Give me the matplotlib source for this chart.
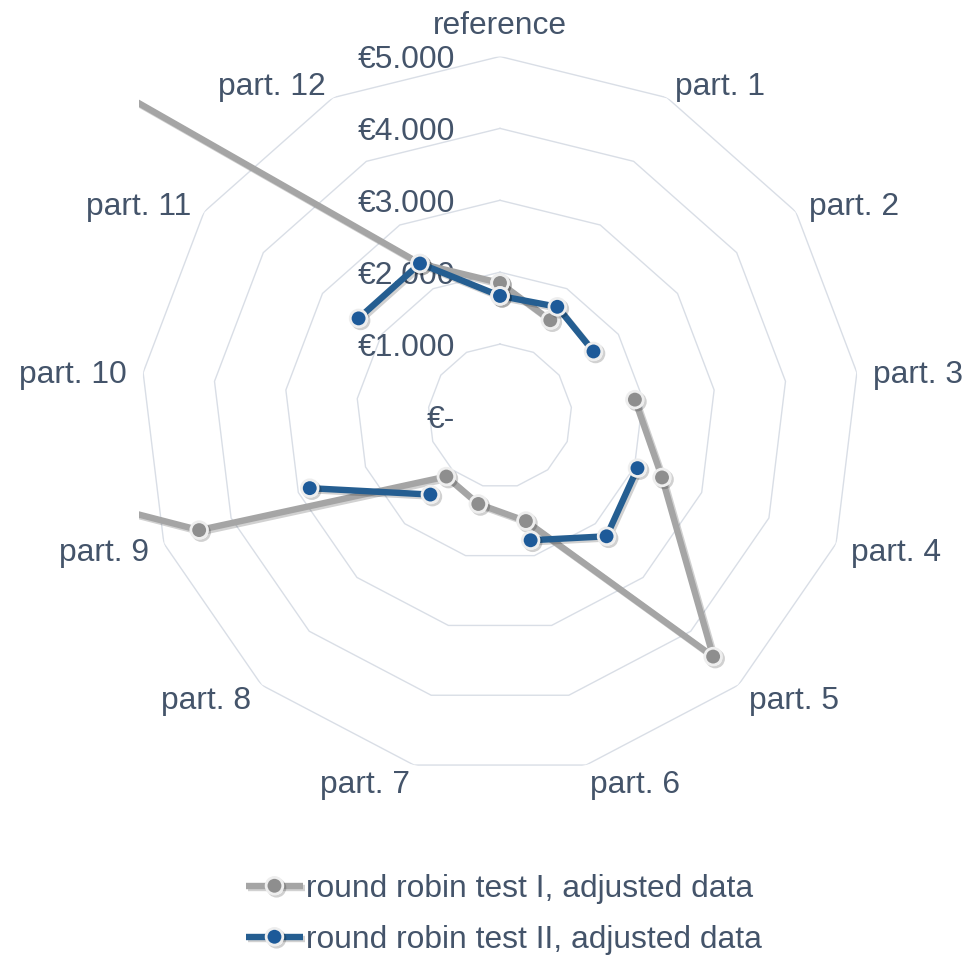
import numpy as np
import matplotlib
matplotlib.use('Agg')
import matplotlib.pyplot as plt
import matplotlib.patheffects as pe
from matplotlib.patches import Rectangle
from matplotlib.transforms import ScaledTranslation

plt.rcParams['font.family'] = ['Liberation Sans', 'DejaVu Sans']

categories = ['reference', 'part. 1', 'part. 2', 'part. 3', 'part. 4', 'part. 5', 'part. 6',
              'part. 7', 'part. 8', 'part. 9', 'part. 10', 'part. 11', 'part. 12']
test_1 = [1850, 1505, np.nan, 1890, 2410, 4470, 1505, 1260, 1125, 4475, 19650, 15050, 2395]
test_2 = [1670, 1715, 1580, np.nan, 2045, 2235, 1780, np.nan, 1460, 2830, np.nan, 2390, 2395]
ring_values = [1000, 2000, 3000, 4000, 5000]
ring_labels = ['€-', '€1.000', '€2.000', '€3.000', '€4.000', '€5.000']
series_names = ['round robin test I, adjusted data', 'round robin test II, adjusted data']

text_color = '#44546A'
grid_color = '#D9DEE6'
fs = 22.9

W, H = 975, 956
fig = plt.figure(figsize=(W / 100, H / 100), dpi=100)
cx, cy, R = 500, 416, 359.5
ax = fig.add_axes([(cx - R) / W, (H - cy - R) / H, 2 * R / W, 2 * R / H], projection='polar')
ax.set_theta_zero_location('N')
ax.set_theta_direction(-1)
ax.set_ylim(0, 5000)
ax.grid(False)
ax.set_xticks([])
ax.set_yticks([])
ax.spines['polar'].set_visible(False)
ax.patch.set_visible(False)

n = len(categories)
theta = np.arange(n) * 2 * np.pi / n
theta_c = np.append(theta, theta[0])

# polygon grid rings
for v in ring_values:
    ax.plot(theta_c, [v] * (n + 1), color=grid_color, lw=1.0, zorder=1)

# radial value labels, left of the vertical axis
off = ScaledTranslation(-45 / 100, -4 / 100, fig.dpi_scale_trans)
for v, lab in zip([0] + ring_values, ring_labels):
    ax.text(0, v, lab, transform=ax.transData + off, ha='right', va='center',
            fontsize=fs, color=text_color, zorder=2)

# category labels
down = ax.transData + ScaledTranslation(0, -4 / 100, fig.dpi_scale_trans)
for t, lab in zip(theta, categories):
    s = np.sin(t)
    if abs(s) < 0.05:
        ax.text(t, 5480, lab, transform=down, ha='center', va='center',
                fontsize=fs, color=text_color)
    else:
        ax.text(t, 5225, lab, transform=down, ha='left' if s > 0 else 'right',
                va='center', fontsize=fs, color=text_color)

clip = Rectangle((139 / W, 0), (861 - 139) / W, 1, transform=fig.transFigure)
shadow = [pe.SimpleLineShadow(offset=(1.5, -1.5), alpha=0.18, shadow_color='black'), pe.Normal()]

styles = [('#A5A5A5', '#8E8E8E'), ('#255E91', '#1D5A99')]
handles = []
for vals, (lc, mc), name, z in zip([test_1, test_2], styles, series_names, [3, 4]):
    r = np.append(vals, vals[0])
    ln, = ax.plot(theta_c, r, color=lc, lw=4.6, marker='o', markersize=12,
                  markerfacecolor=mc, markeredgecolor='#EEEEEE', markeredgewidth=2,
                  label=name, zorder=z, path_effects=shadow, solid_capstyle='butt')
    ln.set_clip_path(clip)
    handles.append(ln)

fig.legend(handles=handles, loc='upper center', bbox_to_anchor=(504 / W, 1 - 858 / H),
           frameon=False, fontsize=fs, labelcolor=text_color, handlelength=1.8,
           handletextpad=0.1, labelspacing=0.66, numpoints=1, borderpad=0)

fig.savefig('out.png', dpi=100)
